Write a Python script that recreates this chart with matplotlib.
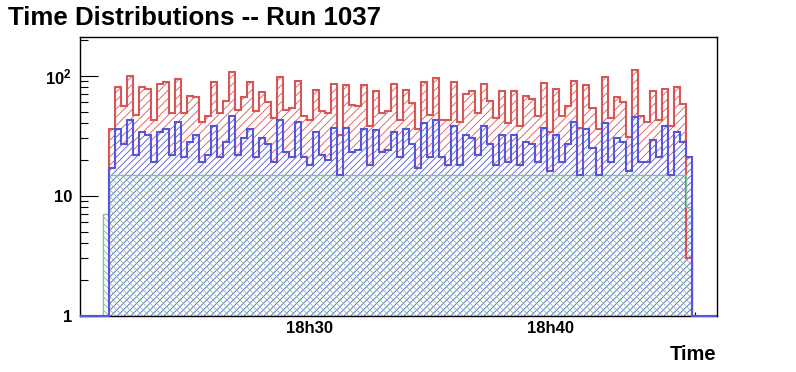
import numpy as np
import matplotlib.pyplot as plt
from matplotlib.ticker import FixedLocator, LogLocator, NullFormatter

plt.rcParams['font.family'] = ['Liberation Sans', 'DejaVu Sans']
plt.rcParams['font.weight'] = 'bold'
plt.rcParams['mathtext.fontset'] = 'custom'
plt.rcParams['mathtext.bf'] = 'Liberation Sans:bold'
plt.rcParams['mathtext.rm'] = 'Liberation Sans:bold'
plt.rcParams['hatch.linewidth'] = 0.6

#------------------------[data]------------------------#
# time axis in minutes after 18:00, bins of ~15 s
t_start = 21.44
bin_width = 0.249
x_range = (20.50, 46.88)
y_range = (1, 210)

tick_minutes = [30, 40]
tick_labels = ['18h30', '18h40']
minor_minutes = [22, 24, 26, 28, 32, 34, 36, 38, 42, 44, 46]

red = [0, 36, 81, 56, 100, 47, 81, 78, 43, 85, 89, 49, 94, 49, 68, 66, 41, 46, 89, 49,
       62, 108, 52, 67, 89, 51, 73, 60, 44, 98, 52, 54, 91, 46, 43, 76, 51, 49, 86, 32,
       84, 57, 56, 84, 38, 74, 49, 51, 85, 43, 76, 59, 36, 89, 47, 96, 43, 43, 89, 41,
       71, 74, 49, 85, 61, 44, 74, 40, 74, 38, 68, 64, 46, 87, 34, 78, 46, 56, 90, 37,
       83, 54, 36, 98, 44, 66, 60, 31, 112, 46, 41, 74, 43, 78, 38, 81, 58, 3]

blue = [0, 17, 36, 27, 43, 22, 34, 32, 19, 34, 36, 22, 41, 21, 28, 32, 19, 22, 38, 21,
        28, 46, 22, 30, 36, 21, 30, 27, 19, 43, 23, 21, 41, 21, 18, 34, 22, 20, 37, 15,
        37, 23, 24, 36, 18, 35, 23, 24, 34, 21, 36, 27, 17, 40, 21, 43, 21, 18, 38, 18,
        32, 30, 22, 38, 27, 18, 32, 19, 32, 18, 28, 27, 19, 37, 16, 32, 19, 27, 41, 15,
        36, 25, 15, 40, 19, 30, 28, 16, 45, 19, 19, 29, 21, 38, 15, 34, 28, 21]

green = [7, 15, 15, 15, 15, 15, 15, 15, 15, 15, 15, 15, 15, 15, 15, 15, 15, 15, 15, 15,
         15, 15, 15, 15, 15, 15, 15, 15, 15, 15, 15, 15, 15, 15, 15, 15, 15, 15, 15, 15,
         15, 15, 15, 15, 15, 15, 15, 15, 15, 15, 15, 15, 15, 15, 15, 15, 15, 15, 15, 15,
         15, 15, 15, 15, 15, 15, 15, 15, 15, 15, 15, 15, 15, 15, 15, 15, 15, 15, 15, 15,
         15, 15, 15, 15, 15, 15, 15, 15, 15, 15, 15, 15, 15, 15, 15, 15, 15, 8]

edges = t_start + bin_width * np.arange(len(red) + 1)
# empty bins out to the frame edges, like the underlying histogram range
full_edges = np.concatenate([[x_range[0]], edges, [x_range[1]]])


def padded(vals):
    v = np.concatenate([[0], vals, [0]]).astype(float)
    return np.clip(v, y_range[0], None)


#------------------------[plot]------------------------#
fig = plt.figure(figsize=(7.96, 3.72), dpi=100)
ax = fig.add_axes([0.1005, 0.1513, 0.7999, 0.7492])
ax.set_yscale('log')

c_red = '#d95656'
c_blue = '#5656dc'
c_green = '#7fc2a0'

ax.stairs(padded(red), full_edges, baseline=y_range[0], fill=True, facecolor='white',
          edgecolor=c_red, hatch='////', linewidth=0, zorder=1)
ax.stairs(padded(blue), full_edges, baseline=y_range[0], fill=True, facecolor='white',
          edgecolor=c_blue, hatch='/////', linewidth=0, zorder=2)
ax.stairs(padded(green), full_edges, baseline=y_range[0], fill=True, facecolor='none',
          edgecolor=c_green, hatch='\\\\\\\\\\', linewidth=0, zorder=3)

ax.stairs(padded(red), full_edges, baseline=None, color=c_red, lw=1.5, zorder=4)
ax.stairs(padded(green), full_edges, baseline=None, color=c_green, lw=1, zorder=5)
ax.stairs(padded(blue), full_edges, baseline=None, color=c_blue, lw=1.5, zorder=12,
          clip_on=False)

ax.set_xlim(*x_range)
ax.set_ylim(*y_range)

ax.xaxis.set_major_locator(FixedLocator(tick_minutes))
ax.set_xticklabels(tick_labels)
ax.xaxis.set_minor_locator(FixedLocator(minor_minutes))
ax.set_yticks([1, 10, 100], labels=['1', '10', r'$\mathbf{10^{2}}$'])
ax.yaxis.set_minor_locator(LogLocator(base=10, subs=np.arange(2, 10)))
ax.yaxis.set_minor_formatter(NullFormatter())

ax.tick_params(axis='x', which='major', direction='in', length=5.5, width=0.8,
               top=False, labelsize=12, pad=3.6)
ax.tick_params(axis='x', which='minor', direction='in', length=3, width=0.8, top=False)
ax.tick_params(axis='y', which='major', direction='in', length=13, width=0.8,
               right=False, labelsize=12, pad=5.8)
ax.tick_params(axis='y', which='minor', direction='in', length=6, width=0.8, right=False)
for s in ax.spines.values():
    s.set_linewidth(1)
    s.set_zorder(10)

fig.text(0.01, 0.952, 'Time Distributions -- Run 1037', fontsize=18.6,
         fontweight='bold', ha='left', va='center')
fig.text(0.9, 0.048, 'Time', fontsize=14.5, fontweight='bold', ha='right', va='center')

fig.savefig('out.png', dpi=100)
